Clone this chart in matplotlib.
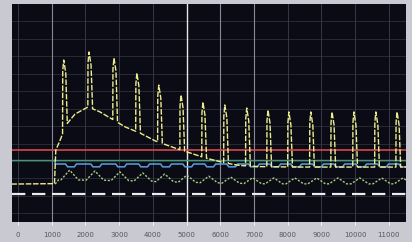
import numpy as np
import matplotlib
matplotlib.use("Agg")
import matplotlib.pyplot as plt

# tick labels along the bottom strip
tick_pos = [0, 1, 2, 3, 4, 5, 6, 7, 8, 9, 10, 11]
tick_labels = ["0", "1000", "2000", "3000", "4000", "5000",
               "6000", "7000", "8000", "9000", "10000", "11000"]

# yellow trace: slow envelope (x in thousands, y in %)
env_x = [-0.2, 1.08, 1.12, 1.25, 1.42, 1.69, 2.08, 2.43, 2.79, 3.18, 3.62,
         4.07, 4.66, 5.10, 5.55, 6.14, 6.59, 7.18, 8.37, 11.6]
env_y = [17.4, 17.6, 33.0, 37.6, 44.5, 49.5, 52.8, 50.5, 47.2, 43.6, 40.8,
         37.2, 33.9, 31.7, 29.4, 27.1, 25.9, 25.4, 25.2, 25.2]

# yellow spikes: position and peak height
spike_x = [1.39, 2.14, 2.88, 3.56, 4.21, 4.87, 5.52, 6.17, 6.82, 7.45,
           8.07, 8.72, 9.35, 10.0, 10.65, 11.28]
spike_top = [74.3, 78.0, 75.2, 68.3, 62.8, 58.3, 55.0, 53.7, 52.3, 51.4,
             50.5, 50.5, 50.5, 50.5, 50.5, 50.5]

# flat reference lines
red_level = 33.0
green_level = 28.4
white_level = 12.8

# blue trace level and dip depth
blue_start = 1.10
blue_level = 26.6
blue_dip = 25.3

# green wavy trace: peaks/troughs per cycle
wave_peak = [23.8, 23.4, 23.0, 22.5, 22.0, 21.5, 21.0, 20.6, 20.3, 20.2,
             20.2, 20.2, 20.2, 20.2, 20.2, 20.2]
wave_trough = [19.3, 19.2, 19.0, 18.8, 18.5, 18.2, 18.0, 17.8, 17.6, 17.5,
               17.5, 17.5, 17.5, 17.5, 17.5, 17.5]

fig = plt.figure(figsize=(4.12, 2.42), dpi=100)
fig.patch.set_facecolor("#c9cad1")
ax = fig.add_axes([12 / 412, 20 / 242, 394 / 412, 218 / 242])
ax.set_facecolor("#0b0b16")
ax.set_xlim(-0.18, 11.51)
ax.set_ylim(0, 100)

# grid
for y in np.arange(4, 100, 8):
    ax.axhline(y, color="#2e2e3c", lw=0.6, zorder=1)
for t in tick_pos:
    c, w = "#3e3e4c", 0.6
    if t == 5:
        c, w = "#e6e6e6", 1.0
    elif t in (1, 6, 7):
        c, w = "#8a8a96", 0.8
    ax.axvline(t, color=c, lw=w, zorder=1)

# flat lines
ax.axhline(red_level, color="#d84848", lw=1.2, zorder=3)
ax.axhline(green_level, color="#3f9a78", lw=1.0, zorder=3)
ax.axhline(white_level, color="#ececec", lw=1.6, dashes=(6, 3), zorder=3)

# blue trace with small dips after each spike
bx = [blue_start, blue_start]
by = [green_level, blue_level]
for s in spike_x:
    bx += [s + 0.02, s + 0.08, s + 0.28, s + 0.34]
    by += [blue_level, blue_dip, blue_dip, blue_level]
bx.append(11.6)
by.append(blue_level)
ax.plot(bx, by, color="#5d9ee0", lw=1.1, zorder=4)

# green wavy dotted trace
gx = [blue_start, blue_start + 0.1]
gy = [env_y[0], wave_trough[0]]
for s, p, tr in zip(spike_x, wave_peak, wave_trough):
    gx += [s - 0.12, s + 0.14, s + 0.4]
    gy += [tr, p, tr]
gx.append(11.6)
gy.append(wave_trough[-1])
ax.plot(gx, gy, color="#a8d080", lw=1.0, dashes=(1.5, 1.2), zorder=4)

# yellow trace: envelope with spikes
pts = list(zip(env_x, env_y))
for s, top in zip(spike_x, spike_top):
    lo = float(np.interp(s - 0.07, env_x, env_y))
    hi = float(np.interp(s + 0.07, env_x, env_y))
    pts = [p for p in pts if not (s - 0.07 <= p[0] <= s + 0.07)]
    pts += [(s - 0.07, lo), (s - 0.065, top - 5), (s - 0.035, top),
            (s + 0.025, top - 6), (s + 0.065, hi + 3), (s + 0.07, hi)]
pts.sort()
yx, yy = zip(*pts)
ax.plot(yx, yy, color="#ecec8c", lw=1.0, dashes=(4, 1.2), zorder=5)

ax.set_xticks(tick_pos)
ax.set_xticklabels(tick_labels, fontsize=5, color="#55555f")
ax.set_yticks([])
ax.tick_params(axis="x", length=2, width=0.6, color="#ffffff", pad=5)
for sp in ax.spines.values():
    sp.set_visible(False)

fig.savefig("out.png", dpi=100, facecolor=fig.get_facecolor())
